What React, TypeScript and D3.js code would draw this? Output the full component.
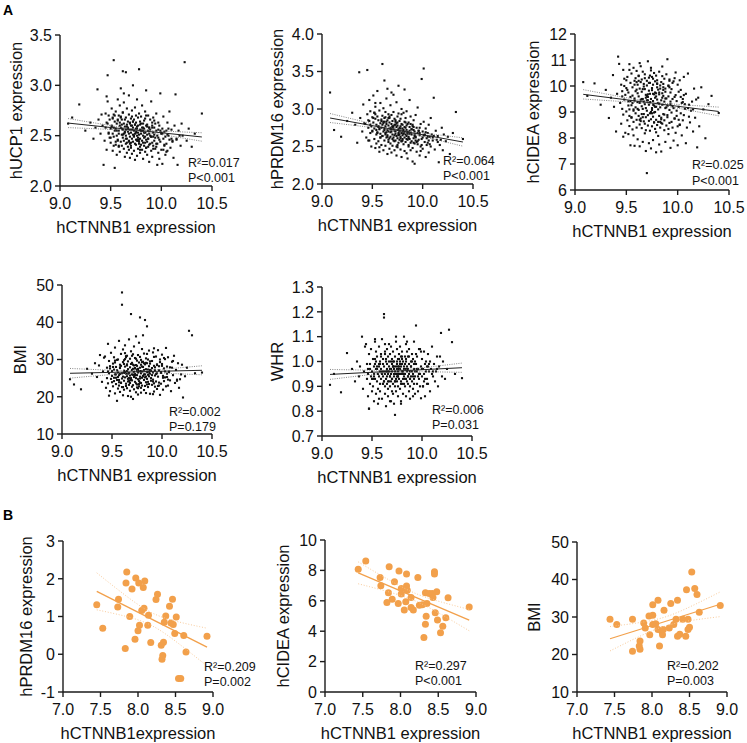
import React from 'react';
import * as d3 from 'd3';

const FONT = '"Liberation Sans", Arial, Helvetica, sans-serif';

// ---------- Panel A: shared hCTNNB1 expression (same samples in all A panels) ----------
const xA = [
  9.08, 9.12, 9.19, 9.25, 9.30, 9.33, 9.35, 9.37, 9.38, 9.40, 9.41, 9.42,
  9.44, 9.45, 9.45, 9.46, 9.46, 9.47, 9.47, 9.48, 9.48, 9.49, 9.49, 9.50,
  9.50, 9.51, 9.51, 9.52, 9.52, 9.52, 9.53, 9.53, 9.53, 9.54, 9.54, 9.54,
  9.55, 9.55, 9.55, 9.56, 9.56, 9.56, 9.57, 9.57, 9.57, 9.58, 9.58, 9.58,
  9.58, 9.59, 9.59, 9.59, 9.60, 9.60, 9.60, 9.60, 9.61, 9.61, 9.61, 9.61,
  9.62, 9.62, 9.62, 9.62, 9.63, 9.63, 9.63, 9.63, 9.64, 9.64, 9.64, 9.64,
  9.65, 9.65, 9.65, 9.65, 9.65, 9.66, 9.66, 9.66, 9.66, 9.67, 9.67, 9.67,
  9.67, 9.68, 9.68, 9.68, 9.68, 9.68, 9.69, 9.69, 9.69, 9.69, 9.70, 9.70,
  9.70, 9.70, 9.70, 9.71, 9.71, 9.71, 9.71, 9.72, 9.72, 9.72, 9.72, 9.72,
  9.73, 9.73, 9.73, 9.73, 9.74, 9.74, 9.74, 9.74, 9.74, 9.75, 9.75, 9.75,
  9.75, 9.75, 9.75, 9.76, 9.76, 9.76, 9.76, 9.76, 9.77, 9.77, 9.77, 9.77,
  9.77, 9.78, 9.78, 9.78, 9.78, 9.79, 9.79, 9.79, 9.79, 9.79, 9.80, 9.80,
  9.80, 9.80, 9.81, 9.81, 9.81, 9.81, 9.82, 9.82, 9.82, 9.82, 9.82, 9.83,
  9.83, 9.83, 9.83, 9.84, 9.84, 9.84, 9.84, 9.85, 9.85, 9.85, 9.85, 9.86,
  9.86, 9.86, 9.86, 9.87, 9.87, 9.87, 9.87, 9.88, 9.88, 9.88, 9.89, 9.89,
  9.89, 9.90, 9.90, 9.90, 9.91, 9.91, 9.91, 9.92, 9.92, 9.92, 9.93, 9.93,
  9.93, 9.94, 9.94, 9.95, 9.95, 9.95, 9.96, 9.96, 9.97, 9.97, 9.98, 9.98,
  9.99, 9.99, 10.00, 10.00, 10.01, 10.01, 10.02, 10.02, 10.03, 10.03, 10.04, 10.04,
  10.05, 10.05, 10.06, 10.06, 10.07, 10.08, 10.08, 10.09, 10.10, 10.11, 10.12, 10.13,
  10.14, 10.15, 10.16, 10.17, 10.19, 10.20, 10.21, 10.23, 10.25, 10.27, 10.30, 10.33,
  9.43, 9.47, 9.53, 9.57, 9.63, 9.69, 9.74, 9.79, 9.85, 9.91, 9.98, 10.40,
  9.46, 9.50, 9.53, 9.56, 9.58, 9.61, 9.63, 9.66, 9.68, 9.71, 9.73, 9.76,
  9.78, 9.80, 9.83, 9.85, 9.88, 9.90, 9.93, 9.96, 9.99, 10.02, 10.06, 10.10,
  9.48, 9.52, 9.55, 9.59, 9.62, 9.65, 9.67, 9.70, 9.72, 9.75, 9.77, 9.79,
  9.81, 9.84, 9.86, 9.89, 9.92, 9.94, 9.97, 10.00, 10.03, 10.07, 10.11, 10.18,
  9.51, 9.57, 9.60, 9.64, 9.69, 9.73, 9.78, 9.82, 9.87, 9.91, 9.95, 10.01,
  9.54, 9.62, 9.66, 9.71, 9.76, 9.80, 9.84, 9.88, 9.92, 9.97, 10.05, 10.15,
];

const ucp1 = [
  2.62, 2.68, 2.81, 2.55, 2.63, 2.47, 2.58, 2.96, 2.66, 2.52, 2.71, 2.60,
  2.45, 2.72, 2.58, 2.89, 2.36, 2.62, 3.10, 2.53, 2.70, 2.48, 2.66, 2.57,
  2.43, 2.60, 2.77, 2.52, 2.35, 2.68, 3.25, 2.49, 2.58, 2.64, 2.18, 2.55,
  2.41, 2.74, 2.57, 2.62, 2.31, 2.50, 2.86, 2.46, 2.66, 2.55, 2.39, 2.70,
  2.52, 2.63, 2.34, 2.80, 2.58, 2.44, 2.69, 2.97, 2.51, 2.61, 2.40, 2.57,
  2.48, 2.73, 3.14, 2.56, 2.37, 2.62, 2.45, 2.83, 2.53, 2.66, 2.29, 2.59,
  2.50, 2.42, 2.68, 3.13, 2.56, 2.33, 2.61, 2.47, 2.77, 2.54, 2.39, 2.64,
  2.58, 2.45, 2.71, 2.36, 2.52, 2.90, 2.49, 2.63, 2.28, 2.56, 2.67, 2.43,
  2.53, 2.38, 2.60, 2.75, 2.47, 2.56, 2.32, 3.00, 2.51, 2.64, 2.44, 2.58,
  2.49, 2.66, 2.35, 2.55, 2.78, 2.42, 2.61, 2.26, 2.52, 2.70, 2.46, 2.57,
  2.54, 2.41, 2.63, 2.30, 2.50, 2.86, 2.45, 2.59, 2.37, 2.68, 2.53, 2.48,
  2.60, 2.44, 2.72, 2.51, 3.16, 2.39, 2.56, 2.33, 2.64, 2.47, 2.55, 2.41,
  2.52, 2.69, 2.36, 2.58, 2.45, 2.80, 2.50, 2.27, 2.62, 2.43, 2.55, 2.48,
  2.57, 2.40, 2.65, 2.49, 2.34, 2.74, 2.53, 2.46, 2.60, 2.38, 2.95, 2.51,
  2.44, 2.61, 2.31, 2.55, 2.70, 2.47, 2.39, 2.58, 2.24, 2.52, 2.66, 2.42,
  2.56, 2.35, 2.49, 2.84, 2.43, 2.60, 2.29, 2.53, 2.68, 2.40, 2.51, 2.45,
  2.58, 2.37, 2.48, 2.72, 2.42, 2.55, 2.21, 2.50, 2.63, 2.33, 2.46, 2.60,
  2.44, 2.92, 2.52, 2.36, 2.22, 2.57, 2.47, 2.69, 2.40, 2.54, 2.31, 2.49,
  2.55, 2.42, 2.63, 2.35, 2.50, 2.46, 2.74, 2.38, 2.56, 2.44, 2.28, 2.60,
  2.91, 2.47, 2.21, 2.55, 2.40, 2.62, 2.50, 3.23, 2.45, 2.57, 2.39, 2.52,
  2.21, 2.84, 2.40, 2.65, 2.92, 2.42, 2.61, 2.36, 2.70, 2.58, 2.27, 2.72,
  2.63, 2.48, 2.71, 2.55, 2.40, 2.66, 2.52, 2.59, 2.44, 2.69, 2.50, 2.57,
  2.46, 2.62, 2.53, 2.38, 2.58, 2.49, 2.65, 2.42, 2.55, 2.36, 2.51, 2.47,
  2.52, 2.67, 2.44, 2.60, 2.73, 2.47, 2.57, 2.40, 2.64, 2.53, 2.45, 2.61,
  2.55, 2.43, 2.59, 2.50, 2.37, 2.62, 2.48, 2.53, 2.41, 2.57, 2.45, 2.50,
  2.59, 2.45, 2.68, 2.54, 2.62, 2.50, 2.42, 2.58, 2.47, 2.63, 2.39, 2.52,
  2.70, 2.51, 2.43, 2.60, 2.46, 2.55, 2.67, 2.41, 2.49, 2.56, 2.34, 2.46,
];

const prdm16 = [
  3.22, 2.72, 2.63, 2.84, 2.95, 2.79, 2.55, 3.49, 2.88, 2.70, 3.06, 2.81,
  2.62, 2.93, 3.52, 2.75, 2.58, 3.12, 2.84, 2.68, 2.97, 2.77, 2.50, 2.89,
  2.71, 3.18, 2.82, 2.60, 2.95, 2.74, 2.48, 2.87, 3.03, 2.66, 2.79, 2.54,
  2.90, 2.69, 3.24, 2.77, 2.57, 2.85, 2.43, 2.98, 2.73, 2.62, 2.81, 3.08,
  2.67, 2.86, 2.52, 2.75, 3.60, 2.64, 2.91, 2.79, 2.45, 2.70, 3.01, 2.83,
  3.38, 2.74, 2.58, 2.88, 2.66, 2.96, 2.51, 2.77, 2.69, 3.14, 2.62, 2.83,
  2.72, 2.40, 2.85, 2.65, 3.27, 2.78, 2.56, 2.93, 2.70, 2.61, 2.82, 2.47,
  2.88, 2.63, 2.75, 2.54, 3.05, 2.69, 2.80, 2.42, 2.73, 2.92, 2.60, 2.77,
  2.66, 2.84, 2.51, 2.74, 2.96, 2.62, 3.19, 2.71, 2.57, 2.79, 2.45, 2.87,
  2.70, 2.58, 2.83, 2.67, 2.38, 2.76, 3.09, 2.64, 2.81, 2.52, 2.72, 2.90,
  2.61, 2.78, 2.49, 2.94, 2.68, 2.73, 2.55, 3.31, 2.66, 2.84, 2.59, 2.75,
  2.71, 2.46, 2.87, 2.63, 2.77, 2.57, 3.00, 2.68, 2.36, 2.80, 2.65, 2.74,
  2.58, 2.79, 2.67, 2.95, 2.53, 2.72, 2.62, 3.26, 2.70, 2.44, 2.83, 2.66,
  2.75, 2.56, 2.88, 2.64, 2.72, 2.41, 2.97, 2.67, 2.59, 2.80, 2.69, 2.52,
  2.63, 2.82, 2.50, 2.71, 3.12, 2.60, 2.76, 2.45, 2.68, 2.90, 2.57, 2.73,
  2.66, 2.48, 2.79, 2.30, 2.61, 2.85, 2.55, 2.70, 2.27, 2.64, 2.92, 2.58,
  2.62, 2.75, 2.43, 2.68, 2.53, 3.02, 2.59, 2.71, 2.38, 2.65, 2.80, 2.50,
  3.40, 2.60, 2.70, 2.47, 2.83, 3.54, 2.56, 2.65, 2.36, 2.74, 2.61, 2.52,
  2.68, 2.55, 2.79, 2.42, 2.63, 2.88, 2.50, 2.66, 2.58, 3.15, 2.46, 2.71,
  2.59, 2.64, 2.29, 2.52, 2.75, 2.45, 2.66, 2.57, 2.63, 2.40, 2.68, 2.96,
  2.80, 2.58, 3.08, 2.49, 2.89, 3.22, 2.50, 2.93, 2.34, 2.76, 2.44, 2.60,
  2.85, 2.70, 2.93, 2.76, 2.62, 2.81, 2.68, 2.88, 2.73, 2.58, 2.79, 2.66,
  2.74, 2.60, 2.82, 2.69, 2.55, 2.77, 2.63, 2.71, 2.52, 2.66, 2.58, 2.62,
  2.79, 2.95, 2.68, 2.84, 2.72, 2.63, 2.90, 2.76, 2.65, 2.82, 2.70, 2.57,
  2.68, 2.78, 2.61, 2.73, 2.66, 2.56, 2.75, 2.62, 2.69, 2.53, 2.64, 2.59,
  2.88, 2.74, 2.64, 2.80, 2.70, 2.85, 2.61, 2.76, 2.67, 2.72, 2.57, 2.65,
  2.72, 2.83, 2.59, 2.77, 2.65, 2.71, 2.60, 2.80, 2.54, 2.68, 2.63, 2.56,
];

const cidea = [
  10.15, 9.62, 10.10, 9.28, 9.85, 8.77, 9.55, 10.42, 9.20, 8.25, 9.70, 11.13,
  9.35, 10.05, 8.55, 9.80, 9.12, 10.62, 8.90, 9.48, 10.28, 8.20, 9.66, 9.02,
  9.92, 8.68, 10.35, 9.41, 8.15, 9.75, 10.84, 9.10, 8.46, 9.58, 10.12, 7.72,
  9.26, 10.48, 8.80, 9.63, 8.33, 9.95, 9.05, 10.70, 8.62, 9.44, 7.70, 10.20,
  9.52, 8.95, 10.30, 9.18, 8.40, 9.86, 10.58, 8.70, 9.38, 7.95, 9.72, 10.05,
  8.85, 9.60, 10.40, 9.08, 8.52, 9.90, 7.68, 9.35, 10.15, 8.75, 9.47, 10.76,
  9.22, 8.38, 9.78, 10.25, 8.92, 9.50, 7.85, 10.55, 9.12, 8.64, 9.98, 9.40,
  10.08, 8.55, 9.30, 9.88, 8.18, 10.45, 9.15, 8.80, 9.66, 7.50, 10.20, 9.45,
  6.65, 9.05, 10.02, 8.48, 9.58, 10.95, 8.88, 9.28, 7.80, 9.82, 10.32, 8.66,
  9.38, 10.12, 8.28, 9.70, 9.00, 10.60, 8.72, 9.50, 7.60, 9.92, 8.95, 10.35,
  9.15, 8.45, 9.84, 10.28, 8.82, 9.42, 7.92, 10.05, 9.25, 8.60, 9.68, 10.50,
  8.98, 9.55, 10.18, 8.35, 9.75, 7.45, 9.20, 10.40, 8.70, 9.60, 9.95, 8.50,
  9.48, 10.22, 8.62, 9.10, 9.86, 8.08, 10.55, 9.32, 8.85, 9.68, 7.75, 10.02,
  9.18, 8.40, 9.90, 10.15, 8.78, 9.45, 7.48, 9.72, 10.38, 8.55, 9.28, 9.85,
  8.92, 9.62, 10.08, 8.30, 9.40, 10.28, 8.68, 9.15, 7.85, 9.78, 10.45, 8.48,
  9.52, 11.03, 8.80, 9.25, 10.00, 8.15, 9.60, 8.58, 10.20, 9.08, 7.62, 9.75,
  9.30, 8.62, 9.88, 10.12, 8.40, 9.50, 7.90, 9.15, 10.30, 8.75, 9.65, 8.20,
  9.42, 8.85, 10.05, 7.72, 9.20, 9.78, 8.50, 10.22, 8.95, 9.58, 8.10, 9.35,
  8.68, 9.50, 10.35, 8.88, 9.12, 7.80, 9.70, 8.40, 10.48, 9.28, 8.60, 9.05,
  9.40, 8.25, 9.90, 8.78, 7.64, 9.55, 8.45, 9.95, 9.10, 7.99, 9.30, 9.62,
  10.85, 8.05, 10.62, 8.10, 10.88, 8.30, 10.70, 8.22, 10.75, 8.35, 10.52, 8.96,
  9.60, 10.22, 8.85, 9.35, 10.05, 9.12, 8.70, 9.88, 10.30, 9.45, 8.95, 9.70,
  9.20, 10.10, 8.62, 9.55, 9.90, 8.88, 9.40, 10.18, 9.05, 8.52, 9.65, 9.15,
  10.00, 9.25, 8.78, 9.80, 10.38, 9.50, 8.92, 9.62, 10.12, 9.08, 8.60, 9.72,
  9.35, 8.72, 9.95, 9.18, 10.25, 8.98, 9.58, 8.45, 9.85, 9.30, 8.82, 9.48,
  9.85, 9.10, 10.15, 8.65, 9.55, 10.40, 9.00, 9.75, 8.90, 10.02, 9.22, 8.70,
  9.42, 10.20, 8.80, 9.68, 9.28, 10.08, 8.58, 9.52, 9.95, 8.75, 9.38, 9.10,
];

const bmiA = [
  24.7, 23.3, 22.0, 27.5, 26.2, 29.0, 25.3, 28.4, 31.2, 24.0, 26.8, 30.5,
  22.4, 27.8, 25.0, 34.2, 23.6, 29.6, 26.3, 21.5, 28.2, 24.8, 31.8, 26.9,
  25.6, 28.9, 22.8, 30.6, 24.2, 27.3, 20.9, 26.0, 33.2, 23.4, 28.0, 25.1,
  18.9, 27.1, 24.5, 30.0, 22.2, 26.5, 35.0, 25.8, 23.0, 28.6, 21.3, 27.7,
  26.1, 31.5, 23.8, 28.3, 48.0, 24.9, 44.7, 22.6, 29.3, 25.4, 32.7, 20.4,
  27.0, 24.3, 29.8, 21.9, 26.6, 33.8, 25.2, 28.1, 22.9, 30.9, 26.2, 23.5,
  28.7, 25.5, 31.0, 22.3, 26.9, 24.1, 29.5, 20.2, 27.4, 35.4, 25.0, 23.2,
  26.4, 30.2, 23.7, 27.9, 21.6, 25.7, 32.2, 24.6, 28.8, 42.2, 22.7, 26.0,
  29.1, 24.4, 27.2, 19.4, 25.9, 31.4, 23.1, 28.4, 26.7, 33.5, 22.0, 25.3,
  27.6, 24.0, 30.4, 26.1, 21.2, 28.5, 25.0, 36.2, 23.6, 27.0, 29.7, 22.5,
  25.8, 28.3, 23.3, 31.2, 26.5, 20.6, 27.5, 24.7, 29.2, 22.8, 26.9, 34.5,
  24.2, 27.8, 30.7, 25.4, 41.3, 22.4, 28.6, 26.3, 23.7, 29.9, 25.1, 32.8,
  26.8, 23.0, 29.4, 36.5, 25.6, 28.0, 21.8, 27.2, 24.5, 31.6, 26.0, 22.9,
  40.6, 25.2, 28.7, 23.9, 27.4, 30.3, 21.0, 26.6, 24.8, 29.0, 38.9, 25.9,
  27.3, 22.6, 30.0, 25.5, 28.2, 23.4, 32.4, 26.2, 20.8, 28.9, 24.3, 27.0,
  25.0, 29.6, 23.2, 27.7, 31.9, 24.6, 26.5, 21.4, 28.3, 33.0, 25.7, 22.7,
  27.9, 24.1, 30.8, 26.3, 22.1, 28.5, 25.4, 32.5, 23.8, 27.1, 20.5, 29.3,
  26.4, 23.5, 28.8, 31.3, 25.1, 21.9, 27.6, 24.2, 30.1, 26.8, 22.8, 33.1,
  25.3, 28.1, 23.0, 30.6, 26.7, 24.4, 27.9, 21.5, 29.4, 25.8, 31.0, 23.7,
  27.2, 24.6, 29.0, 22.4, 26.0, 28.6, 19.8, 25.5, 27.8, 37.7, 36.5, 26.3,
  30.8, 20.3, 29.7, 23.9, 31.7, 20.0, 30.2, 21.1, 31.5, 20.7, 30.0, 26.5,
  26.8, 23.9, 29.2, 25.3, 27.9, 22.6, 30.1, 26.2, 24.4, 28.6, 25.7, 27.4,
  24.9, 28.1, 26.0, 23.3, 29.5, 25.8, 27.1, 22.9, 26.6, 30.4, 24.6, 27.8,
  27.6, 25.1, 29.9, 23.7, 26.4, 28.4, 24.2, 31.0, 25.9, 27.3, 23.4, 26.9,
  25.5, 29.1, 24.0, 27.0, 30.7, 26.1, 23.0, 28.3, 25.2, 26.7, 29.6, 24.7,
  28.0, 24.5, 26.3, 30.6, 25.0, 27.7, 23.8, 29.0, 26.5, 24.1, 28.7, 25.6,
  26.0, 28.8, 24.8, 27.5, 22.3, 29.3, 25.4, 27.2, 23.6, 28.2, 26.2, 24.3,
];

const whr = [
  0.906, 0.95, 0.876, 1.034, 0.97, 0.92, 1.00, 0.94, 0.98, 1.10, 0.89, 0.96,
  1.07, 0.93, 0.99, 0.86, 0.95, 1.03, 0.81, 0.97, 0.91, 1.05, 0.94, 0.88,
  0.96, 1.01, 0.90, 0.98, 0.84, 0.95, 1.08, 0.93, 0.99, 0.87, 0.97, 1.04,
  0.92, 0.98, 1.02, 0.89, 0.95, 0.83, 1.06, 0.94, 0.99, 0.91, 0.96, 1.00,
  0.88, 0.97, 1.03, 0.93, 0.96, 0.85, 1.09, 0.95, 0.91, 1.01, 0.94, 0.99,
  1.191, 1.177, 0.92, 0.98, 0.87, 1.04, 0.95, 0.90, 1.00, 0.96, 0.82, 0.93,
  0.97, 1.05, 0.91, 0.94, 0.99, 0.86, 1.02, 0.95, 0.89, 1.07, 0.96, 0.92,
  0.98, 0.90, 1.03, 0.94, 0.84, 0.97, 1.00, 0.92, 1.06, 0.95, 0.88, 0.99,
  0.93, 1.01, 0.96, 0.87, 0.98, 1.04, 0.91, 0.95, 0.83, 1.00, 0.94, 0.97,
  0.785, 0.96, 1.02, 0.90, 0.98, 0.93, 1.08, 0.95, 0.88, 1.00, 0.94, 0.97,
  0.99, 0.92, 1.05, 0.96, 0.86, 1.01, 0.94, 0.90, 0.98, 1.03, 0.93, 0.97,
  0.95, 1.00, 0.89, 0.97, 1.06, 0.92, 0.98, 0.84, 1.02, 0.95, 0.91, 0.99,
  0.96, 1.04, 0.93, 0.87, 1.00, 0.95, 0.98, 1.10, 0.91, 0.97, 0.94, 1.02,
  0.90, 0.99, 0.95, 1.07, 0.93, 0.86, 1.01, 0.96, 0.92, 0.98, 1.04, 0.94,
  0.97, 0.91, 1.02, 0.95, 0.88, 0.99, 1.05, 0.93, 0.96, 0.85, 1.00, 0.94,
  0.98, 1.03, 0.92, 0.96, 0.89, 1.01, 0.95, 1.08, 0.93, 0.97, 0.87, 1.00,
  0.94, 0.99, 1.145, 0.91, 0.96, 1.02, 0.88, 0.97, 0.93, 1.05, 0.95, 0.90,
  0.98, 0.852, 1.01, 0.94, 0.97, 0.90, 1.04, 0.95, 0.99, 0.86, 0.96, 1.00,
  0.93, 0.98, 1.03, 0.91, 0.96, 1.00, 0.88, 0.97, 1.06, 0.94, 0.99, 0.92,
  0.96, 1.02, 0.90, 0.98, 1.115, 0.94, 1.00, 0.93, 0.97, 1.128, 1.078, 0.95,
  1.06, 0.81, 1.09, 0.85, 1.07, 0.84, 1.10, 0.83, 1.08, 0.86, 1.05, 0.933,
  0.97, 0.93, 1.01, 0.95, 0.99, 0.91, 1.03, 0.96, 0.94, 1.00, 0.92, 0.98,
  0.95, 1.02, 0.93, 0.97, 0.90, 1.00, 0.96, 0.94, 1.04, 0.92, 0.98, 0.95,
  0.99, 0.94, 0.97, 1.02, 0.92, 0.96, 1.00, 0.93, 0.98, 0.95, 1.01, 0.91,
  0.96, 1.00, 0.94, 0.98, 0.91, 1.03, 0.95, 0.97, 0.93, 0.99, 0.96, 1.02,
  0.93, 0.98, 0.95, 1.01, 0.97, 0.92, 0.99, 0.95, 1.02, 0.94, 0.97, 0.90,
  1.00, 0.96, 0.92, 0.98, 0.94, 1.01, 0.97, 0.93, 0.99, 0.95, 0.91, 0.97,
];

// ---------- Panel B ----------
const bX1 = [7.45, 7.53, 7.74, 7.73, 7.85, 7.84, 7.92, 7.89, 7.83, 7.97, 8.01, 8.09, 8.07, 8.08, 8.05, 8.02, 8.00, 7.96, 8.14, 8.13, 8.17, 8.24, 8.26, 8.37, 8.35, 8.42, 8.46, 8.44, 8.47, 8.51, 8.49, 8.61, 8.64, 8.34, 8.31, 8.33, 8.32, 8.54, 8.57, 8.92];
const bPrdm16 = [1.31, 0.69, 1.46, 1.25, 2.18, 1.89, 1.73, 1.00, 0.15, 2.02, 1.89, 1.94, 1.77, 1.22, 1.16, 0.77, 0.62, 0.40, 1.03, 0.77, 0.31, 1.45, 1.59, 1.01, 0.85, 1.27, 1.46, 0.83, 0.79, 0.99, 0.55, 0.50, 0.06, 0.32, 0.24, -0.03, -0.13, -0.64, -0.64, 0.48];

const bX2 = [7.44, 7.54, 7.73, 7.74, 7.85, 7.84, 7.82, 7.89, 7.92, 7.98, 7.97, 8.01, 8.01, 8.08, 8.08, 8.09, 8.07, 8.05, 8.14, 8.14, 8.17, 8.23, 8.25, 8.29, 8.33, 8.35, 8.34, 8.33, 8.31, 8.38, 8.42, 8.45, 8.45, 8.43, 8.48, 8.46, 8.49, 8.56, 8.53, 8.60, 8.63, 8.91];
const bCidea = [8.07, 8.62, 7.54, 6.99, 8.24, 6.53, 5.89, 6.11, 7.25, 7.96, 5.83, 6.81, 6.44, 7.76, 6.97, 6.70, 5.93, 5.39, 6.22, 5.56, 5.39, 7.54, 5.71, 5.74, 6.53, 5.83, 4.99, 4.46, 3.58, 6.48, 6.48, 7.91, 7.76, 6.22, 6.59, 5.21, 4.73, 4.33, 3.89, 4.88, 6.20, 5.60];

const bX3 = [7.44, 7.53, 7.74, 7.74, 7.83, 7.84, 7.84, 7.89, 7.91, 7.96, 7.97, 8.01, 8.01, 8.01, 8.05, 8.08, 8.08, 8.10, 8.13, 8.14, 8.15, 8.16, 8.23, 8.25, 8.29, 8.32, 8.34, 8.34, 8.37, 8.41, 8.45, 8.46, 8.48, 8.48, 8.50, 8.53, 8.57, 8.60, 8.63, 8.91];
const bBmi = [29.4, 28.0, 29.4, 20.9, 22.3, 23.6, 21.4, 28.4, 27.1, 30.3, 25.3, 30.5, 28.0, 33.3, 28.2, 34.5, 26.7, 22.3, 26.2, 25.3, 26.7, 31.8, 27.1, 33.6, 28.0, 29.4, 34.5, 24.9, 25.4, 29.4, 24.9, 37.3, 29.4, 26.7, 27.3, 42.0, 37.6, 36.0, 31.3, 33.1];

// ---------- regression fits: [x start, x end, y start, y end] ----------
const fitUcp1 = [9.08, 10.40, 2.625, 2.487];
const fitPrdm16 = [9.08, 10.40, 2.88, 2.56];
const fitCidea = [9.08, 10.40, 9.68, 9.02];
const fitBmiA = [9.08, 10.40, 26.3, 27.1];
const fitWhr = [9.08, 10.40, 0.948, 0.975];
const fitBPrdm16 = [7.45, 8.92, 1.667, 0.19];
const fitBCidea = [7.44, 8.91, 7.84, 4.73];
const fitBBmi = [7.44, 8.91, 24.2, 33.4];
// 95% CI half-widths [at the extremes, at the mean x]
const ciUcp1 = [0.045, 0.010];
const ciPrdm16 = [0.06, 0.012];
const ciCidea = [0.18, 0.04];
const ciBmiA = [1.3, 0.28];
const ciWhr = [0.02, 0.004];
const ciBPrdm16 = [0.5, 0.17];
const ciBCidea = [0.72, 0.25];
const ciBBmi = [3.3, 1.2];

// ---------- ticks ----------
const xTicksA = [9.0, 9.5, 10.0, 10.5];
const xTicksB = [7.0, 7.5, 8.0, 8.5, 9.0];
const yTicksUcp1 = [2.0, 2.5, 3.0, 3.5];
const yTicksPrdm16 = [2.0, 2.5, 3.0, 3.5, 4.0];
const yTicksCidea = [6, 7, 8, 9, 10, 11, 12];
const yTicksBmi = [10, 20, 30, 40, 50];
const yTicksWhr = [0.7, 0.8, 0.9, 1.0, 1.1, 1.2, 1.3];
const yTicksBPrdm16 = [-1, 0, 1, 2, 3];
const yTicksBCidea = [0, 2, 4, 6, 8, 10];

const stats = {
  ucp1: ['R²=0.017', 'P<0.001'],
  prdm16: ['R²=0.064', 'P<0.001'],
  cidea: ['R²=0.025', 'P<0.001'],
  bmiA: ['R²=0.002', 'P=0.179'],
  whr: ['R²=0.006', 'P=0.031'],
  bPrdm16: ['R²=0.209', 'P=0.002'],
  bCidea: ['R²=0.297', 'P<0.001'],
  bBmi: ['R²=0.202', 'P=0.003'],
};

const ORANGE = '#F2A04B';

type PanelProps = {
  left: number; right: number; top: number; bottom: number;
  xDomain: number[]; yDomain: number[];
  xTicks: number[]; yTicks: number[];
  xFmt: (v: number) => string; yFmt: (v: number) => string;
  xs: number[]; ys: number[];
  fit: number[]; ci: number[];
  xTitle: string; yTitle: string; yTitleOff: number;
  stat: string[]; statX: number; statY1: number; statY2: number;
  kind: 'A' | 'B';
};

function Panel(p: PanelProps) {
  const x = d3.scaleLinear().domain(p.xDomain).range([p.left, p.right]);
  const y = d3.scaleLinear().domain(p.yDomain).range([p.bottom, p.top]);
  const [fx0, fx1, fy0, fy1] = p.fit;
  const slope = (fy1 - fy0) / (fx1 - fx0);
  const f = (v: number) => fy0 + slope * (v - fx0);
  const xc = d3.mean(p.xs) as number;
  const D = Math.max(Math.abs(fx0 - xc), Math.abs(fx1 - xc));
  const [ce, cm] = p.ci;
  const hw = (v: number) => Math.sqrt(cm * cm + (ce * ce - cm * cm) * ((v - xc) / D) ** 2);
  const samples = d3.range(0, 61).map((i) => fx0 + ((fx1 - fx0) * i) / 60);
  const line = d3.line<number[]>().x((d) => x(d[0])).y((d) => y(d[1]));
  const upper = line(samples.map((v) => [v, f(v) + hw(v)])) || '';
  const lower = line(samples.map((v) => [v, f(v) - hw(v)])) || '';
  const main = line([[fx0, f(fx0)], [fx1, f(fx1)]]) || '';
  const isA = p.kind === 'A';
  const tickCol = '#1a1a1a';
  const axisW = 1.4;
  const midY = (p.top + p.bottom) / 2;
  const midX = (p.left + p.right) / 2;
  const ciStroke = isA ? '#666' : '#F7C48F';
  return (
    <g fontFamily={FONT}>
      {p.xs.map((xv, i) =>
        isA ? (
          <rect key={i} x={x(xv) - 1.05} y={y(p.ys[i]) - 1.05} width={2.1} height={2.1} fill="#111" />
        ) : (
          <circle key={i} cx={x(xv)} cy={y(p.ys[i])} r={3.5} fill={ORANGE} />
        )
      )}
      <path d={upper} fill="none" stroke={ciStroke} strokeWidth={isA ? 0.8 : 0.9} strokeDasharray={isA ? '1 1.3' : '1 1.8'} />
      <path d={lower} fill="none" stroke={ciStroke} strokeWidth={isA ? 0.8 : 0.9} strokeDasharray={isA ? '1 1.3' : '1 1.8'} />
      <path d={main} fill="none" stroke={isA ? '#222' : ORANGE} strokeWidth={isA ? 1 : 1.3} />
      <line x1={p.left} x2={p.right} y1={p.bottom} y2={p.bottom} stroke={tickCol} strokeWidth={axisW} />
      <line x1={p.left} x2={p.left} y1={p.bottom} y2={p.top} stroke={tickCol} strokeWidth={axisW} />
      {p.xTicks.map((t) => (
        <g key={'x' + t}>
          <line x1={x(t)} x2={x(t)} y1={p.bottom} y2={p.bottom + 5} stroke={tickCol} strokeWidth={axisW} />
          <text x={x(t)} y={p.bottom + 23} textAnchor="middle" fontSize={16} fill="#111">{p.xFmt(t)}</text>
        </g>
      ))}
      {p.yTicks.map((t) => (
        <g key={'y' + t}>
          <line x1={p.left - 5} x2={p.left} y1={y(t)} y2={y(t)} stroke={tickCol} strokeWidth={axisW} />
          <text x={p.left - 8} y={y(t)} dy="0.36em" textAnchor="end" fontSize={16} fill="#111">{p.yFmt(t)}</text>
        </g>
      ))}
      <text x={midX} y={p.bottom + 47} textAnchor="middle" fontSize={16.5} fill="#111">{p.xTitle}</text>
      <text
        transform={`translate(${p.left - p.yTitleOff},${midY}) rotate(-90)`}
        dy="0.36em"
        textAnchor="middle"
        fontSize={16.5}
        fill="#111"
      >
        {p.yTitle}
      </text>
      <text x={p.statX} y={p.statY1} fontSize={12.5} fill="#111">{p.stat[0]}</text>
      <text x={p.statX} y={p.statY2} fontSize={12.5} fill="#111">{p.stat[1]}</text>
    </g>
  );
}

const f1 = (v: number) => v.toFixed(1);
const f0 = (v: number) => String(v);

export default function App() {
  const xTitle = 'hCTNNB1 expression';
  return (
    <svg
      width={747}
      height={743}
      viewBox="0 0 747 743"
      style={{ position: 'absolute', left: 0, top: 0, background: '#fff' }}
    >
      <rect width={747} height={743} fill="#fff" />
      <text x={3} y={15} fontFamily={FONT} fontWeight="bold" fontSize={14}>A</text>
      <text x={3} y={520} fontFamily={FONT} fontWeight="bold" fontSize={14}>B</text>

      <Panel kind="A" left={60} right={212} top={35} bottom={186}
        xDomain={[9, 10.5]} yDomain={[2, 3.5]} xTicks={xTicksA} yTicks={yTicksUcp1}
        xFmt={f1} yFmt={f1} xs={xA} ys={ucp1} fit={fitUcp1} ci={ciUcp1}
        xTitle={xTitle} yTitle="hUCP1 expression" yTitleOff={44}
        stat={stats.ucp1} statX={188} statY1={167} statY2={182} />
      <Panel kind="A" left={322} right={473} top={34} bottom={184}
        xDomain={[9, 10.5]} yDomain={[2, 4]} xTicks={xTicksA} yTicks={yTicksPrdm16}
        xFmt={f1} yFmt={f1} xs={xA} ys={prdm16} fit={fitPrdm16} ci={ciPrdm16}
        xTitle={xTitle} yTitle="hPRDM16 expression" yTitleOff={45}
        stat={stats.prdm16} statX={443} statY1={165} statY2={180} />
      <Panel kind="A" left={575} right={729} top={34} bottom={190}
        xDomain={[9, 10.5]} yDomain={[6, 12]} xTicks={xTicksA} yTicks={yTicksCidea}
        xFmt={f1} yFmt={f0} xs={xA} ys={cidea} fit={fitCidea} ci={ciCidea}
        xTitle={xTitle} yTitle="hCIDEA expression" yTitleOff={42}
        stat={stats.cidea} statX={692} statY1={169} statY2={185} />
      <Panel kind="A" left={62} right={212} top={285} bottom={434}
        xDomain={[9, 10.5]} yDomain={[10, 50]} xTicks={xTicksA} yTicks={yTicksBmi}
        xFmt={f1} yFmt={f0} xs={xA} ys={bmiA} fit={fitBmiA} ci={ciBmiA}
        xTitle={xTitle} yTitle="BMI" yTitleOff={42}
        stat={stats.bmiA} statX={169} statY1={416} statY2={431} />
      <Panel kind="A" left={322} right={472} top={287} bottom={436}
        xDomain={[9, 10.5]} yDomain={[0.7, 1.3]} xTicks={xTicksA} yTicks={yTicksWhr}
        xFmt={f1} yFmt={f1} xs={xA} ys={whr} fit={fitWhr} ci={ciWhr}
        xTitle={xTitle} yTitle="WHR" yTitleOff={45}
        stat={stats.whr} statX={432} statY1={414} statY2={429} />

      <Panel kind="B" left={63} right={213} top={541} bottom={692}
        xDomain={[7, 9]} yDomain={[-1, 3]} xTicks={xTicksB} yTicks={yTicksBPrdm16}
        xFmt={f1} yFmt={f0} xs={bX1} ys={bPrdm16} fit={fitBPrdm16} ci={ciBPrdm16}
        xTitle="hCTNNB1expression" yTitle="hPRDM16 expression" yTitleOff={37}
        stat={stats.bPrdm16} statX={204} statY1={671} statY2={686} />
      <Panel kind="B" left={325} right={476} top={540} bottom={692}
        xDomain={[7, 9]} yDomain={[0, 10]} xTicks={xTicksB} yTicks={yTicksBCidea}
        xFmt={f1} yFmt={f0} xs={bX2} ys={bCidea} fit={fitBCidea} ci={ciBCidea}
        xTitle={xTitle} yTitle="hCIDEA expression" yTitleOff={42}
        stat={stats.bCidea} statX={415} statY1={670} statY2={685} />
      <Panel kind="B" left={577} right={727} top={542} bottom={692}
        xDomain={[7, 9]} yDomain={[10, 50]} xTicks={xTicksB} yTicks={yTicksBmi}
        xFmt={f1} yFmt={f0} xs={bX3} ys={bBmi} fit={fitBBmi} ci={ciBBmi}
        xTitle={xTitle} yTitle="BMI" yTitleOff={43}
        stat={stats.bBmi} statX={667} statY1={670} statY2={685} />
    </svg>
  );
}
